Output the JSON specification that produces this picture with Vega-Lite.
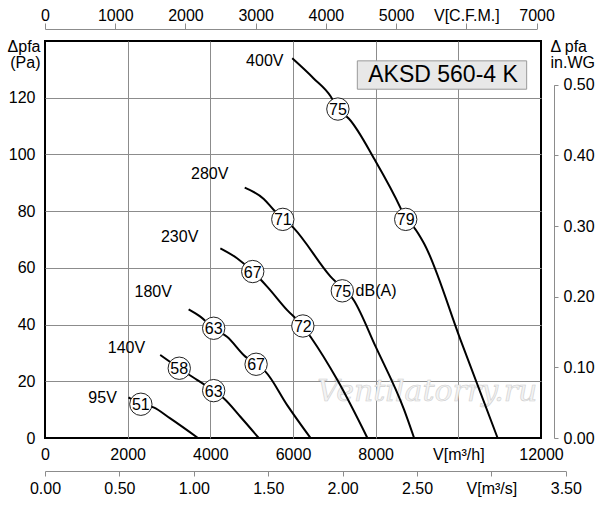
{
  "$schema": "https://vega.github.io/schema/vega-lite/v6.json",
  "width": 496,
  "height": 397,
  "autosize": {"type": "none"},
  "padding": {"left": 45, "top": 41, "right": 59, "bottom": 67},
  "background": "white",
  "config": {
    "font": "Liberation Sans",
    "view": {"stroke": "black", "strokeWidth": 2},
    "axis": {
      "labelFont": "Liberation Sans", "labelFontSize": 16, "labelColor": "black",
      "titleFont": "Liberation Sans", "titleFontSize": 16, "titleFontWeight": "normal", "titleColor": "black",
      "domainColor": "#8c8c8c", "tickColor": "#8c8c8c", "gridColor": "#8c8c8c", "gridWidth": 1,
      "labelFlush": false, "labelOverlap": false
    },
    "text": {"font": "Liberation Sans"}
  },
  "layer": [
    {
      "layer": [
        {
          "data": {"values": [{"q": 9250, "p": 16.2, "t": "Ventilatorry.ru"}]},
          "mark": {"type": "text", "font": "DejaVu Serif", "fontStyle": "italic", "fontSize": 30, "fill": "#f3f3f3", "stroke": "#cfcfcf", "strokeWidth": 0.6, "align": "center", "baseline": "middle"},
          "encoding": {
            "x": {"field": "q", "type": "quantitative", "scale": {"domain": [0, 12000], "nice": false},
              "axis": {"orient": "bottom", "values": [0, 2000, 4000, 6000, 8000, 10000, 12000],
                "labelExpr": "datum.value == 10000 ? 'V[m³/h]' : format(datum.value, 'd')",
                "ticks": false, "domain": false, "grid": true, "labelPadding": 8, "title": null,
                "gridOpacity": {"condition": {"test": "datum.value == 0 || datum.value == 12000", "value": 0}, "value": 1}}},
            "y": {"field": "p", "type": "quantitative", "scale": {"domain": [0, 140], "nice": false},
              "axis": {"orient": "left", "values": [0, 20, 40, 60, 80, 100, 120], "format": "d",
                "ticks": false, "domain": false, "grid": true, "labelPadding": 10,
                "gridOpacity": {"condition": {"test": "datum.value == 0", "value": 0}, "value": 1},
                "title": ["Δpfa", "(Pa)"], "titleAngle": 0, "titleAlign": "right", "titleBaseline": "top",
                "titleX": -5, "titleY": -3, "titleLineHeight": 16}},
            "text": {"field": "t"}
          }
        },
        {
          "data": {"values": [
            {"s": "400V", "q": 5981, "p": 133.9}, {"s": "400V", "q": 6500, "p": 126.8}, {"s": "400V", "q": 6909, "p": 120.5},
            {"s": "400V", "q": 7086, "p": 116.0}, {"s": "400V", "q": 7354, "p": 112.6}, {"s": "400V", "q": 7983, "p": 98.0},
            {"s": "400V", "q": 8606, "p": 81.0}, {"s": "400V", "q": 8727, "p": 77.1},
            {"s": "400V", "q": 8921, "p": 74.4}, {"s": "400V", "q": 9164, "p": 68.8}, {"s": "400V", "q": 10053, "p": 34.6},
            {"s": "400V", "q": 10950, "p": 0},
            {"s": "280V", "q": 4832, "p": 88.3}, {"s": "280V", "q": 5293, "p": 84.3}, {"s": "280V", "q": 5535, "p": 80.4},
            {"s": "280V", "q": 6020, "p": 74.0}, {"s": "280V", "q": 6909, "p": 56.9}, {"s": "280V", "q": 7475, "p": 48.5},
            {"s": "280V", "q": 8000, "p": 32.2}, {"s": "280V", "q": 8687, "p": 10.0}, {"s": "280V", "q": 8930, "p": 0},
            {"s": "230V", "q": 4242, "p": 66.9}, {"s": "230V", "q": 4646, "p": 63.4}, {"s": "230V", "q": 5026, "p": 58.7},
            {"s": "230V", "q": 5374, "p": 53.4}, {"s": "230V", "q": 5859, "p": 45.1}, {"s": "230V", "q": 6238, "p": 39.5},
            {"s": "230V", "q": 6424, "p": 35.7}, {"s": "230V", "q": 7071, "p": 20.5}, {"s": "230V", "q": 7800, "p": 0},
            {"s": "180V", "q": 3475, "p": 45.4}, {"s": "180V", "q": 3758, "p": 42.8}, {"s": "180V", "q": 4081, "p": 38.7},
            {"s": "180V", "q": 4404, "p": 35.7}, {"s": "180V", "q": 4848, "p": 28.7}, {"s": "180V", "q": 5107, "p": 26.0},
            {"s": "180V", "q": 5333, "p": 23.4}, {"s": "180V", "q": 5859, "p": 11.6}, {"s": "180V", "q": 6424, "p": 0},
            {"s": "140V", "q": 2788, "p": 29.3}, {"s": "140V", "q": 3248, "p": 24.6}, {"s": "140V", "q": 3677, "p": 20.5},
            {"s": "140V", "q": 4081, "p": 16.7}, {"s": "140V", "q": 4323, "p": 14.0}, {"s": "140V", "q": 4727, "p": 7.5},
            {"s": "140V", "q": 5172, "p": 0},
            {"s": "95V", "q": 2020, "p": 14.3}, {"s": "95V", "q": 2319, "p": 11.9}, {"s": "95V", "q": 2626, "p": 10.8},
            {"s": "95V", "q": 3030, "p": 6.9}, {"s": "95V", "q": 3701, "p": 0}
          ]},
          "mark": {"type": "line", "color": "black", "strokeWidth": 2, "interpolate": "monotone"},
          "encoding": {
            "x": {"field": "q", "type": "quantitative"},
            "y": {"field": "p", "type": "quantitative"},
            "detail": {"field": "s"}
          }
        },
        {
          "data": {"values": [
            {"q": 7086, "p": 116.0, "db": "75"}, {"q": 8727, "p": 77.1, "db": "79"},
            {"q": 5753, "p": 77.1, "db": "71"}, {"q": 7193, "p": 51.9, "db": "75"},
            {"q": 5026, "p": 58.7, "db": "67"}, {"q": 6238, "p": 39.5, "db": "72"},
            {"q": 4081, "p": 38.7, "db": "63"}, {"q": 5107, "p": 26.0, "db": "67"},
            {"q": 3248, "p": 24.6, "db": "58"}, {"q": 4081, "p": 16.7, "db": "63"},
            {"q": 2319, "p": 11.9, "db": "51"}
          ]},
          "layer": [
            {
              "mark": {"type": "point", "shape": "circle", "size": 500, "filled": true, "fill": "white", "stroke": "#222222", "strokeWidth": 1, "opacity": 1},
              "encoding": {"x": {"field": "q", "type": "quantitative"}, "y": {"field": "p", "type": "quantitative"}}
            },
            {
              "mark": {"type": "text", "fontSize": 16, "align": "center", "baseline": "middle", "color": "black", "dy": 1},
              "encoding": {"x": {"field": "q", "type": "quantitative"}, "y": {"field": "p", "type": "quantitative"}, "text": {"field": "db"}}
            }
          ]
        },
        {
          "data": {"values": [
            {"q": 5770, "p": 133.1, "t": "400V"}, {"q": 4436, "p": 93.1, "t": "280V"},
            {"q": 3709, "p": 70.8, "t": "230V"}, {"q": 3071, "p": 51.6, "t": "180V"},
            {"q": 2424, "p": 31.9, "t": "140V"}, {"q": 1738, "p": 14.2, "t": "95V"}
          ]},
          "mark": {"type": "text", "fontSize": 16, "align": "right", "baseline": "middle", "color": "black"},
          "encoding": {"x": {"field": "q", "type": "quantitative"}, "y": {"field": "p", "type": "quantitative"}, "text": {"field": "t"}}
        },
        {
          "data": {"values": [{"q": 7515, "p": 51.9, "t": "dB(A)"}]},
          "mark": {"type": "text", "fontSize": 16, "align": "left", "baseline": "middle", "color": "black"},
          "encoding": {"x": {"field": "q", "type": "quantitative"}, "y": {"field": "p", "type": "quantitative"}, "text": {"field": "t"}}
        },
        {
          "data": {"values": [{"q": 7556, "q2": 11653, "p": 123.0, "p2": 133.0}]},
          "mark": {"type": "rect", "fill": "#e8e8e8", "stroke": "#9a9a9a", "strokeWidth": 1},
          "encoding": {
            "x": {"field": "q", "type": "quantitative"}, "x2": {"field": "q2"},
            "y": {"field": "p", "type": "quantitative"}, "y2": {"field": "p2"}
          }
        },
        {
          "data": {"values": [{"q": 9630, "p": 128.0, "t": "AKSD 560-4 K"}]},
          "mark": {"type": "text", "fontSize": 23, "align": "center", "baseline": "middle", "color": "black"},
          "encoding": {"x": {"field": "q", "type": "quantitative"}, "y": {"field": "p", "type": "quantitative"}, "text": {"field": "t"}}
        }
      ]
    },
    {
      "data": {"values": [{"cfm": 0}, {"cfm": 7000}]},
      "mark": {"type": "point", "opacity": 0},
      "encoding": {
        "x": {"field": "cfm", "type": "quantitative", "scale": {"domain": [0, 7000], "range": [0, 491.6], "nice": false},
          "axis": {"orient": "top", "offset": 12, "values": [0, 1000, 2000, 3000, 4000, 5000, 6000, 7000],
            "labelExpr": "datum.value == 6000 ? 'V[C.F.M.]' : format(datum.value, 'd')",
            "tickSize": 6, "labelPadding": 0, "grid": false, "title": null}}
      }
    },
    {
      "data": {"values": [{"qs": 0}, {"qs": 3.5}]},
      "mark": {"type": "point", "opacity": 0},
      "encoding": {
        "x": {"field": "qs", "type": "quantitative", "scale": {"domain": [0, 3.5], "range": [0, 520.8], "nice": false},
          "axis": {"orient": "bottom", "offset": 33, "values": [0, 0.5, 1, 1.5, 2, 2.5, 3, 3.5],
            "labelExpr": "datum.value == 3 ? 'V[m³/s]' : format(datum.value, '.2f')",
            "tickSize": 5, "labelPadding": 4, "grid": false, "title": null}}
      }
    },
    {
      "data": {"values": [{"wg": 0}, {"wg": 0.5}]},
      "mark": {"type": "point", "opacity": 0},
      "encoding": {
        "y": {"field": "wg", "type": "quantitative", "scale": {"domain": [0, 0.5], "range": [397, 43.8], "nice": false},
          "axis": {"orient": "right", "offset": 13, "values": [0, 0.1, 0.2, 0.3, 0.4, 0.5], "format": ".2f",
            "tickSize": 4, "labelPadding": 5, "grid": false,
            "title": ["Δ pfa", "in.WG"], "titleAngle": 0, "titleAlign": "left", "titleBaseline": "top",
            "titleX": -4, "titleY": -3, "titleLineHeight": 16}}
      }
    }
  ],
  "resolve": {"scale": {"x": "independent", "y": "independent"}}
}
